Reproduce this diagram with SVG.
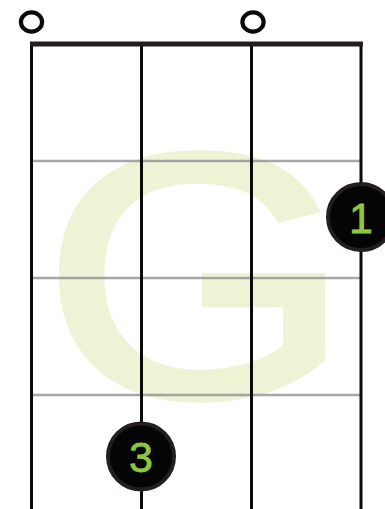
<svg xmlns="http://www.w3.org/2000/svg" width="385" height="509" viewBox="0 0 385 509">
  <style>
    .string { stroke: #0a0a0a; stroke-width: 3; fill: none; }
    .fret { stroke: #8a8a8c; stroke-opacity: 0.75; stroke-width: 2.5; }
    .open { fill: none; stroke: #0a0a0a; stroke-width: 4.2; }
    .dot { fill: #050505; stroke: #231f20; stroke-width: 4; }
    .num { fill: #8dc63f; stroke: #8dc63f; stroke-width: 0.8; font-family: "Liberation Sans", Arial, sans-serif; font-size: 43px; text-anchor: middle; }
    .chord { fill: #eff3d5; stroke: #eff3d5; stroke-width: 7; font-family: "Liberation Sans", Arial, sans-serif; font-size: 347px; }
  </style>
  <rect width="385" height="509" fill="#ffffff"/>
  <g id="chord-name">
    <text class="chord" transform="translate(43 396) scale(1.14 1)" x="0" y="0">G</text>
  </g>
  <g id="fretboard">
    <line class="fret" x1="31" y1="161" x2="361" y2="161"/>
    <line class="fret" x1="31" y1="278" x2="361" y2="278"/>
    <line class="fret" x1="31" y1="395" x2="361" y2="395"/>
    <line class="string" x1="31.5" y1="44" x2="31.5" y2="509"/>
    <line class="string" x1="141.5" y1="44" x2="141.5" y2="509"/>
    <line class="string" x1="251.5" y1="44" x2="251.5" y2="509"/>
    <line class="string" x1="361" y1="44" x2="361" y2="509"/>
    <rect id="nut" x="30" y="41.5" width="333" height="5" fill="#231f20"/>
  </g>
  <g id="open-1">
    <ellipse class="open" cx="31.5" cy="22" rx="10.6" ry="9.6"/>
  </g>
  <g id="open-3">
    <ellipse class="open" cx="253" cy="22" rx="10.6" ry="9.6"/>
  </g>
  <g id="finger-1">
    <circle class="dot" cx="361" cy="217" r="33"/>
    <text class="num" x="361" y="232.5">1</text>
  </g>
  <g id="finger-3">
    <circle class="dot" cx="141" cy="456.5" r="33"/>
    <text class="num" x="141" y="472">3</text>
  </g>
</svg>
